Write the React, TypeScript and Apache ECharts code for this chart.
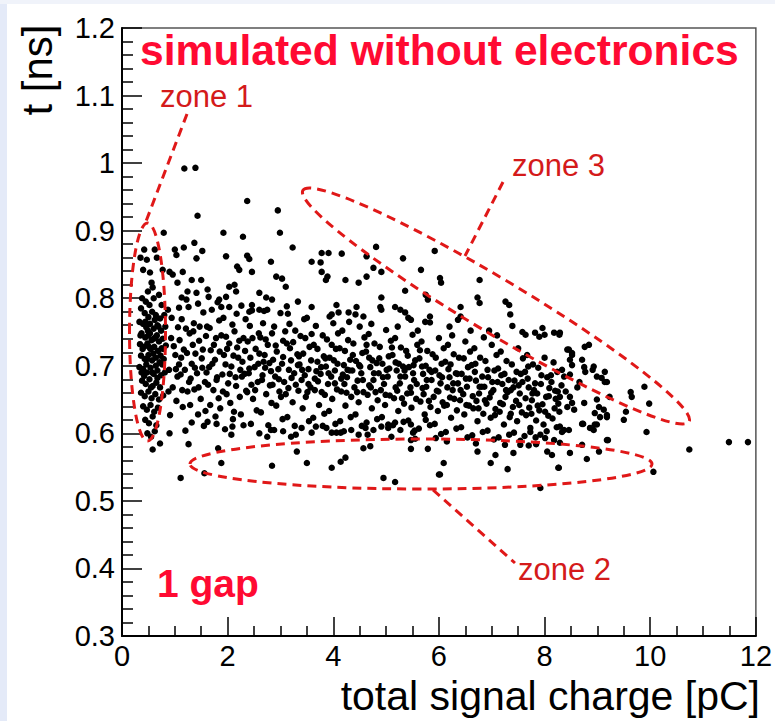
import React, { useEffect, useRef } from "react";
import * as echarts from "echarts";

const TITLE = "simulated without electronics";
const GAP_LABEL = "1 gap";
const ZONE_LABELS = ["zone 1", "zone 2", "zone 3"];
const X_NAME = "total signal charge [pC]";
const Y_NAME = "t [ns]";

const X_MIN = 0;
const X_MAX = 12;
const X_STEP = 2;
const Y_MIN = 0.3;
const Y_MAX = 1.2;
const Y_STEP = 0.1;

const zone1Points = [
  [0.35,0.86],[0.42,0.872],[0.47,0.857],[0.62,0.872],[0.66,0.86],[0.40,0.842],[0.53,0.838],[0.56,0.823],[0.58,0.816],[0.49,0.81],
  [0.38,0.80],[0.45,0.795],[0.52,0.79],[0.60,0.80],[0.70,0.805],[0.75,0.79],[0.36,0.785],[0.43,0.778],[0.50,0.772],[0.57,0.78],
  [0.64,0.775],[0.72,0.77],[0.80,0.775],[0.33,0.765],[0.40,0.762],[0.46,0.757],[0.53,0.762],[0.60,0.755],[0.67,0.76],[0.74,0.752],
  [0.82,0.758],[0.37,0.748],[0.44,0.742],[0.50,0.745],[0.56,0.738],[0.63,0.742],[0.70,0.736],[0.77,0.74],[0.34,0.732],[0.41,0.728],
  [0.48,0.733],[0.54,0.725],[0.61,0.728],[0.68,0.722],[0.75,0.726],[0.83,0.73],[0.36,0.715],[0.43,0.71],[0.50,0.716],[0.57,0.708],
  [0.64,0.712],[0.71,0.705],[0.79,0.71],[0.33,0.698],[0.40,0.695],[0.47,0.69],[0.54,0.697],[0.60,0.688],[0.67,0.693],[0.74,0.686],
  [0.81,0.69],[0.38,0.678],[0.45,0.673],[0.52,0.68],[0.58,0.67],[0.65,0.675],[0.72,0.668],[0.36,0.66],[0.43,0.655],[0.50,0.662],
  [0.56,0.652],[0.63,0.658],[0.70,0.65],[0.78,0.656],[0.40,0.64],[0.47,0.635],[0.54,0.642],[0.61,0.632],[0.68,0.638],[0.44,0.62],
  [0.51,0.615],[0.58,0.625],[0.65,0.612],[0.48,0.60],[0.55,0.595],[0.62,0.603],[0.58,0.576],[0.72,0.585],[0.39,0.725],[0.46,0.702],
  [0.53,0.748],[0.59,0.718],[0.66,0.745],[0.73,0.715],[0.42,0.685],[0.49,0.752],[0.57,0.69],[0.64,0.70],[0.35,0.745],[0.78,0.725],
  [0.44,0.765],[0.51,0.728],[0.62,0.768],[0.69,0.758],[0.76,0.702],[0.37,0.69],[0.55,0.668],[0.48,0.71],[0.60,0.74],[0.67,0.682]
];

const bodyA = [
  [0.87,0.783],[0.93,0.741],[1.01,0.716],[0.89,0.694],[1.06,0.757],[0.96,0.668],[1.08,0.702],[0.91,0.627],[1.03,0.648],[0.98,0.729],[0.88,0.662],[1.05,0.684],[0.94,0.771],
  [1.13,0.769],[1.17,0.724],[1.28,0.748],[1.11,0.687],[1.32,0.703],[1.24,0.662],[1.15,0.639],[1.3,0.681],[1.26,0.787],[1.34,0.731],[1.12,0.712],[1.21,0.755],[1.29,0.642],[1.19,0.694],
  [1.36,0.763],[1.46,0.737],[1.51,0.711],[1.42,0.689],[1.57,0.676],[1.49,0.651],[1.39,0.718],[1.59,0.744],[1.44,0.628],[1.54,0.779],[1.52,0.697],[1.37,0.665],[1.58,0.633],[1.47,0.758],
  [1.61,0.758],[1.68,0.723],[1.78,0.741],[1.65,0.698],[1.8,0.683],[1.73,0.664],[1.67,0.642],[1.76,0.709],[1.84,0.767],[1.7,0.783],[1.63,0.672],[1.77,0.625],[1.83,0.652],[1.74,0.731],
  [1.88,0.745],[1.93,0.716],[2.03,0.733],[1.9,0.687],[2.07,0.699],[1.98,0.658],[1.92,0.771],[2.09,0.761],[2.01,0.674],[1.86,0.637],[2.05,0.645],[1.96,0.702],[2.1,0.621],[1.99,0.725],
  [2.13,0.751],[2.18,0.727],[2.28,0.706],[2.15,0.683],[2.32,0.688],[2.23,0.654],[2.17,0.777],[2.3,0.741],[2.35,0.663],[2.2,0.712],[2.12,0.632],[2.25,0.628],[2.34,0.769],[2.24,0.694],
  [2.38,0.736],[2.43,0.712],[2.53,0.725],[2.4,0.689],[2.57,0.676],[2.48,0.651],[2.42,0.759],[2.59,0.748],[2.51,0.698],[2.37,0.661],[2.55,0.634],[2.46,0.782],[2.58,0.703],[2.45,0.672]
];

const bodyB = [
  [2.62,0.742],[2.7,0.716],[2.76,0.731],[2.65,0.679],[2.82,0.692],[2.73,0.658],[2.67,0.763],[2.8,0.671],[2.84,0.748],[2.71,0.697],[2.63,0.631],[2.77,0.612],[2.83,0.645],[2.68,0.706],
  [2.88,0.758],[2.93,0.721],[3.03,0.703],[2.9,0.684],[3.05,0.737],[2.98,0.662],[2.92,0.641],[3.07,0.676],[3.0,0.778],[2.86,0.709],[3.04,0.621],[2.96,0.695],[3.09,0.751],[3.01,0.654],
  [3.12,0.733],[3.2,0.708],[3.26,0.689],[3.15,0.667],[3.32,0.717],[3.23,0.646],[3.17,0.762],[3.28,0.752],[3.34,0.663],[3.21,0.682],[3.13,0.624],[3.27,0.611],[3.33,0.701],[3.18,0.726],
  [3.38,0.744],[3.43,0.718],[3.53,0.695],[3.4,0.679],[3.55,0.728],[3.48,0.654],[3.42,0.637],[3.57,0.668],[3.5,0.771],[3.36,0.702],[3.54,0.618],[3.46,0.686],[3.59,0.747],[3.51,0.661],
  [3.63,0.731],[3.7,0.706],[3.76,0.688],[3.65,0.664],[3.82,0.714],[3.73,0.642],[3.67,0.759],[3.8,0.745],[3.84,0.657],[3.71,0.677],[3.62,0.623],[3.77,0.698],[3.83,0.629],[3.68,0.692],
  [3.88,0.739],[3.93,0.712],[4.03,0.693],[3.9,0.673],[4.05,0.725],[3.98,0.651],[3.92,0.633],[4.07,0.665],[4.0,0.763],[3.86,0.699],[4.04,0.614],[3.96,0.684],[4.09,0.748],[4.01,0.708],
  [4.12,0.726],[4.2,0.701],[4.26,0.683],[4.15,0.662],[4.32,0.709],[4.23,0.641],[4.17,0.752],[4.28,0.738],[4.34,0.654],[4.21,0.673],[4.13,0.618],[4.27,0.694],[4.33,0.624],[4.18,0.687],
  [4.38,0.733],[4.43,0.707],[4.53,0.689],[4.4,0.668],[4.55,0.719],[4.48,0.646],[4.42,0.628],[4.57,0.661],[4.5,0.758],[4.36,0.693],[4.54,0.611],[4.46,0.678],[4.59,0.742],[4.51,0.699]
];

const bodyC = [
  [4.62,0.721],[4.7,0.698],[4.76,0.679],[4.65,0.657],[4.82,0.704],[4.73,0.637],[4.67,0.747],[4.78,0.733],[4.84,0.649],[4.71,0.668],[4.63,0.616],[4.77,0.689],[4.83,0.621],[4.68,0.712],
  [4.88,0.728],[4.93,0.703],[5.03,0.684],[4.9,0.664],[5.05,0.714],[4.98,0.642],[4.92,0.624],[5.07,0.656],[5.0,0.753],[4.86,0.689],[5.04,0.608],[4.96,0.673],[5.09,0.737],[5.01,0.694],
  [5.12,0.716],[5.2,0.693],[5.26,0.674],[5.15,0.652],[5.32,0.699],[5.23,0.633],[5.17,0.741],[5.28,0.727],[5.34,0.644],[5.21,0.663],[5.13,0.612],[5.27,0.684],[5.33,0.617],[5.18,0.705],
  [5.38,0.722],[5.43,0.698],[5.53,0.679],[5.4,0.659],[5.55,0.708],[5.48,0.638],[5.42,0.619],[5.57,0.651],[5.5,0.746],[5.36,0.684],[5.54,0.604],[5.46,0.668],[5.59,0.731],[5.51,0.689],
  [5.63,0.711],[5.7,0.688],[5.76,0.669],[5.65,0.647],[5.82,0.694],[5.73,0.628],[5.67,0.736],[5.78,0.722],[5.84,0.639],[5.71,0.658],[5.62,0.607],[5.77,0.679],[5.83,0.612],[5.68,0.699],
  [5.88,0.717],[5.93,0.693],[6.03,0.674],[5.9,0.654],[6.05,0.703],[5.98,0.633],[5.92,0.614],[6.07,0.646],[6.0,0.741],[5.86,0.679],[6.04,0.599],[5.96,0.663],[6.09,0.726],[6.01,0.686],
  [6.12,0.706],[6.2,0.683],[6.26,0.664],[6.15,0.642],[6.32,0.689],[6.23,0.623],[6.17,0.731],[6.28,0.717],[6.34,0.634],[6.21,0.653],[6.13,0.602],[6.27,0.674],[6.33,0.607],[6.18,0.695],
  [6.38,0.712],[6.43,0.688],[6.53,0.669],[6.4,0.649],[6.55,0.698],[6.48,0.628],[6.42,0.609],[6.57,0.641],[6.5,0.736],[6.36,0.674],[6.54,0.594],[6.46,0.658],[6.59,0.721],[6.51,0.681]
];

const bodyD = [
  [6.62,0.701],[6.7,0.678],[6.76,0.659],[6.65,0.637],[6.82,0.684],[6.73,0.618],[6.67,0.726],[6.78,0.712],[6.84,0.629],[6.71,0.648],[6.63,0.597],[6.77,0.669],[6.83,0.602],[6.68,0.691],
  [6.88,0.707],[6.93,0.683],[7.03,0.664],[6.9,0.644],[7.05,0.693],[6.98,0.623],[6.92,0.604],[7.07,0.636],[7.0,0.731],[6.86,0.669],[7.04,0.591],[6.96,0.653],[7.09,0.716],[7.01,0.676],
  [7.12,0.696],[7.2,0.673],[7.26,0.654],[7.15,0.632],[7.32,0.679],[7.23,0.613],[7.17,0.721],[7.28,0.707],[7.34,0.624],[7.21,0.643],[7.13,0.594],[7.27,0.664],[7.33,0.598],[7.18,0.686],
  [7.38,0.702],[7.43,0.678],[7.53,0.659],[7.4,0.639],[7.55,0.688],[7.48,0.618],[7.42,0.601],[7.57,0.631],[7.5,0.726],[7.36,0.664],[7.54,0.589],[7.46,0.648],[7.59,0.711],[7.51,0.671],
  [7.63,0.691],[7.7,0.668],[7.76,0.649],[7.65,0.627],[7.82,0.674],[7.73,0.608],[7.67,0.716],[7.78,0.702],[7.84,0.619],[7.71,0.638],[7.62,0.596],[7.77,0.659],[7.83,0.594],[7.68,0.681],
  [7.88,0.697],[7.93,0.673],[8.03,0.654],[7.9,0.634],[8.05,0.683],[7.98,0.613],[7.92,0.598],[8.07,0.626],[8.0,0.712],[7.86,0.659],[8.04,0.603],[7.96,0.643],[8.09,0.667],
  [8.12,0.686],[8.2,0.663],[8.26,0.644],[8.15,0.622],[8.32,0.671],[8.23,0.609],[8.17,0.705],[8.28,0.632],[8.21,0.651],[8.33,0.694]
];

const bodyFill = [
  [1.02,0.695],[1.09,0.738],[1.14,0.664],[1.23,0.719],[1.27,0.676],[1.35,0.751],[1.38,0.697],[1.45,0.668],[1.53,0.724],[1.6,0.69],
  [1.66,0.756],[1.71,0.703],[1.79,0.679],[1.85,0.721],[1.91,0.662],[1.97,0.743],[2.04,0.688],[2.11,0.715],[2.16,0.67],[2.22,0.737],
  [2.27,0.684],[2.33,0.722],[2.41,0.696],[2.47,0.741],[2.52,0.664],[2.6,0.718],[2.66,0.686],[2.72,0.739],[2.79,0.704],[2.85,0.672],
  [2.91,0.73],[2.97,0.68],[3.05,0.713],[3.1,0.658],[3.16,0.694],[3.24,0.735],[3.29,0.672],[3.35,0.714],[3.41,0.694],[3.47,0.741],
  [3.53,0.673],[3.58,0.708],[3.65,0.681],[3.7,0.725],[3.78,0.661],[3.85,0.711],[3.91,0.689],[3.97,0.731],[4.03,0.674],[4.08,0.703],
  [4.15,0.681],[4.22,0.722],[4.25,0.66],[4.31,0.693],[4.37,0.716],[4.45,0.661],[4.49,0.701],[4.56,0.679],[4.63,0.731],[4.68,0.671],
  [4.74,0.708],[4.8,0.661],[4.87,0.711],[4.94,0.683],[4.99,0.657],[5.06,0.696],[5.11,0.727],[5.18,0.668],[5.24,0.703],[5.3,0.652],
  [5.35,0.693],[5.41,0.715],[5.47,0.66],[5.52,0.701],[5.58,0.673],[5.64,0.723],[5.69,0.667],[5.75,0.7],[5.81,0.648],[5.86,0.691],
  [5.94,0.712],[5.99,0.662],[6.06,0.683],[6.1,0.641],[6.16,0.668],[6.22,0.702],[6.29,0.651],[6.35,0.688],[6.41,0.664],[6.47,0.711],
  [6.52,0.642],[6.58,0.681],[6.64,0.655],[6.69,0.703],[6.75,0.637],[6.81,0.669],[6.87,0.649],[6.92,0.694],[6.99,0.66],[7.06,0.627],
  [7.11,0.676],[7.16,0.645],[7.24,0.688],[7.3,0.661],[7.36,0.629],[7.41,0.668],[7.47,0.691],[7.52,0.642],[7.58,0.676],[7.64,0.652],
  [7.69,0.699],[7.75,0.629],[7.8,0.664],[7.87,0.641],[7.94,0.686],[8.01,0.632],[8.08,0.655],[8.13,0.676],[8.19,0.637],[8.25,0.662],
  [1.2,0.604],[1.55,0.611],[1.95,0.606],[2.3,0.612],[2.6,0.6],[3.05,0.603],[3.4,0.608],[3.8,0.611],[4.2,0.603],[4.65,0.598],
  [5.1,0.595],[5.55,0.592],[6.15,0.588],[6.7,0.585],[7.25,0.583],[7.7,0.582],[1.08,0.786],[1.44,0.792],[1.81,0.794],[2.26,0.789],
  [2.69,0.781],[3.14,0.777],[3.45,0.769],[3.93,0.773],[4.3,0.765],[4.72,0.762],[5.22,0.758],[5.6,0.752],[6.25,0.745],[6.85,0.742]
];

const upperPoints = [
  [1.18,0.992],[1.39,0.993],[1.43,0.922],[2.37,0.944],[2.95,0.93],[0.79,0.897],[1.92,0.897],[2.29,0.891],[2.99,0.897],[1.37,0.882],
  [1.0,0.872],[1.03,0.864],[1.17,0.875],[1.52,0.87],[1.41,0.859],[1.97,0.862],[2.37,0.863],[2.41,0.858],[2.18,0.847],[2.22,0.842],
  [2.46,0.839],[0.9,0.839],[0.96,0.835],[1.15,0.839],[1.32,0.827],[1.5,0.827],[1.05,0.823],[1.24,0.81],[1.13,0.801],[1.22,0.798],
  [1.41,0.808],[1.62,0.813],[1.64,0.802],[2.03,0.817],[2.13,0.82],[2.16,0.81],[1.97,0.802],[1.84,0.798],[1.88,0.787],[2.03,0.787],
  [0.77,0.842],[2.82,0.854],[2.92,0.832],[3.03,0.829],[3.1,0.817],[3.59,0.854],[3.76,0.853],[3.78,0.839],[3.86,0.827],[3.89,0.832],
  [4.23,0.827],[4.48,0.823],[4.63,0.832],[3.23,0.875],[3.78,0.867],[3.91,0.867],[4.16,0.866],[4.63,0.862],[2.6,0.808],[2.73,0.801],
  [2.84,0.798],[2.75,0.783],[2.6,0.783],[2.46,0.79],[2.41,0.78],[3.59,0.787],[4.06,0.79],[3.97,0.776],[4.1,0.779],[4.29,0.779],
  [4.42,0.776],[4.44,0.787],[4.57,0.773],[4.81,0.876],[5.92,0.87],[5.32,0.859],[4.76,0.845],[4.91,0.839],[5.66,0.842],[6.02,0.83],
  [6.04,0.823],[6.77,0.827],[5.36,0.811],[4.91,0.801],[4.89,0.787],[4.91,0.783],[5.17,0.787],[5.27,0.783],[5.75,0.805],[5.79,0.798],
  [6.73,0.801],[6.77,0.793],[7.26,0.795],[7.33,0.79],[7.35,0.776],[6.41,0.787],[6.41,0.773],[6.36,0.768],[5.83,0.773],[5.74,0.765],
  [5.83,0.764],[5.36,0.779],[5.42,0.771],[5.47,0.768],[7.39,0.759],[7.58,0.75],[7.64,0.746],[7.82,0.749],[7.9,0.743],[7.96,0.756],
  [8.0,0.746],[8.18,0.749],[8.28,0.746],[8.29,0.749],[3.33,0.795],[3.12,0.788],[6.95,0.752],[7.1,0.745],[6.2,0.758],[6.6,0.752]
];

const lowerPoints = [
  [1.11,0.534],[1.26,0.584],[1.56,0.541],[1.82,0.578],[1.88,0.556],[1.32,0.616],[1.62,0.617],[1.79,0.614],[2.44,0.614],[2.07,0.598],
  [2.09,0.61],[0.9,0.6],[2.84,0.552],[3.31,0.573],[3.5,0.556],[3.97,0.549],[4.14,0.558],[4.23,0.564],[4.57,0.578],[4.7,0.581],
  [4.95,0.534],[5.17,0.528],[5.47,0.577],[5.79,0.577],[6.0,0.539],[6.09,0.556],[2.75,0.595],[2.82,0.605],[2.88,0.605],[3.2,0.595],
  [3.29,0.598],[3.59,0.601],[3.67,0.61],[3.87,0.608],[3.97,0.601],[4.06,0.601],[4.14,0.601],[4.34,0.605],[4.48,0.598],[4.61,0.608],
  [4.76,0.605],[4.91,0.61],[5.04,0.613],[5.17,0.616],[5.27,0.605],[5.47,0.613],[5.51,0.601],[5.47,0.59],[5.75,0.62],[5.94,0.593],
  [6.02,0.539],[6.73,0.573],[6.98,0.556],[7.07,0.568],[7.3,0.547],[7.41,0.571],[7.54,0.583],[7.84,0.584],[8.05,0.573],[8.14,0.568],
  [8.26,0.549],[7.92,0.519],[7.73,0.602],[8.01,0.593],[8.18,0.59],[8.29,0.586]
];

const tailPoints = [
  [8.48,0.571],[8.71,0.583],[8.8,0.562],[9.03,0.573],[9.2,0.59],[9.93,0.602],[10.06,0.543],[10.74,0.576],[11.49,0.587],[11.85,0.587],
  [8.73,0.614],[8.99,0.613],[8.93,0.605],[9.89,0.669],[9.98,0.644],[9.63,0.661],[9.65,0.654],[9.54,0.632],[9.5,0.62],[9.18,0.59],
  [8.27,0.549],[9.18,0.676],[9.23,0.654],[9.18,0.624],[8.86,0.608],[8.95,0.613],[8.71,0.614],[8.84,0.731],[8.91,0.694],[8.99,0.684],
  [9.08,0.682],[9.14,0.676],[8.43,0.724],[8.52,0.716],[8.48,0.709],[8.52,0.701],[8.71,0.709],[8.75,0.698],[8.77,0.691],[8.37,0.684],
  [8.48,0.687],[8.29,0.654],[8.48,0.654],[8.52,0.645],[8.43,0.639],[8.56,0.635],[8.75,0.645],[8.99,0.65],[9.03,0.639],[9.12,0.635],
  [9.18,0.627],[8.95,0.63],[9.05,0.624],[8.29,0.61],[8.33,0.602],[8.37,0.605],[8.46,0.605],[8.46,0.724],[8.52,0.719],[8.76,0.728],
  [8.93,0.699],[9.14,0.691],[8.24,0.691],[8.62,0.668],[8.66,0.676],[8.4,0.662]
];

const ALL_POINTS = [
  ...zone1Points, ...bodyA, ...bodyB, ...bodyC, ...bodyD, ...bodyFill,
  ...upperPoints, ...lowerPoints, ...tailPoints
];

const FONT = '"Liberation Sans", Arial, sans-serif';
const RED = "#ff0a32";
const ZONE_RED = "#d41a1a";
const DASH_RED = "#e01818";

export default function App() {
  const ref = useRef<HTMLDivElement>(null);

  useEffect(() => {
    if (!ref.current) return;
    const chart = echarts.init(ref.current, undefined, { renderer: "svg" });
    const dashStyle = { fill: "none", stroke: DASH_RED, lineWidth: 3, lineDash: [9, 6] };
    const option: any = {
      animation: false,
      backgroundColor: "#ffffff",
      grid: {
        left: 122, right: 15, top: 28, bottom: 85,
        show: true, borderColor: "#555", borderWidth: 1.5, backgroundColor: "transparent"
      },
      xAxis: {
        type: "value", min: X_MIN, max: X_MAX, interval: X_STEP,
        axisLine: { show: true, onZero: false, lineStyle: { color: "#000", width: 2 } },
        axisTick: { show: true, inside: true, length: 19, lineStyle: { color: "#000", width: 1.5 } },
        minorTick: { show: true, splitNumber: 4, length: 10, lineStyle: { color: "#000", width: 1.5 } },
        splitLine: { show: false },
        axisLabel: { color: "#000", fontSize: 29, fontFamily: FONT, margin: 5 }
      },
      yAxis: {
        type: "value", min: Y_MIN, max: Y_MAX, interval: Y_STEP,
        axisLine: { show: true, onZero: false, lineStyle: { color: "#000", width: 2 } },
        axisTick: { show: true, inside: true, length: 20, lineStyle: { color: "#000", width: 1.5 } },
        minorTick: { show: true, splitNumber: 5, length: 11, lineStyle: { color: "#000", width: 1.5 } },
        splitLine: { show: false },
        axisLabel: {
          color: "#000", fontSize: 29, fontFamily: FONT, margin: 7,
          formatter: (v: number) => String(Math.round(v * 10) / 10)
        }
      },
      series: [
        {
          type: "scatter",
          data: ALL_POINTS,
          symbol: "circle",
          symbolSize: 6.5,
          itemStyle: { color: "#000", opacity: 1 },
          silent: true
        }
      ],
      graphic: [
        { type: "rect", z: -1, shape: { x: 0, y: 0, width: 7, height: 721 }, style: { fill: "#e4eaf8" } },
        { type: "rect", z: -1, shape: { x: 0, y: 0, width: 775, height: 4 }, style: { fill: "#f0f3fa" } },
        { type: "ellipse", z: 100, x: 147.5, y: 332, shape: { cx: 0, cy: 0, rx: 18, ry: 109 }, style: dashStyle },
        { type: "ellipse", z: 100, x: 421, y: 464, shape: { cx: 0, cy: 0, rx: 231, ry: 25 }, style: dashStyle },
        { type: "ellipse", z: 100, x: 496, y: 306, rotation: -0.54, shape: { cx: 0, cy: 0, rx: 225, ry: 27 }, style: dashStyle },
        { type: "line", z: 100, shape: { x1: 187, y1: 114, x2: 145, y2: 224 }, style: { ...dashStyle } },
        { type: "line", z: 100, shape: { x1: 503, y1: 182, x2: 465, y2: 256 }, style: { ...dashStyle } },
        { type: "line", z: 100, shape: { x1: 433, y1: 490, x2: 515, y2: 563 }, style: { ...dashStyle } },
        {
          type: "text", z: 110, x: 140, y: 50,
          style: { text: TITLE, fill: RED, fontSize: 42.6, fontWeight: "bold", fontFamily: FONT, align: "left", verticalAlign: "middle" }
        },
        {
          type: "text", z: 110, x: 157, y: 583,
          style: { text: GAP_LABEL, fill: RED, fontSize: 39, fontWeight: "bold", fontFamily: FONT, align: "left", verticalAlign: "middle" }
        },
        {
          type: "text", z: 110, x: 160, y: 96,
          style: { text: ZONE_LABELS[0], fill: ZONE_RED, fontSize: 31, fontFamily: FONT, align: "left", verticalAlign: "middle" }
        },
        {
          type: "text", z: 110, x: 518, y: 569,
          style: { text: ZONE_LABELS[1], fill: ZONE_RED, fontSize: 31, fontFamily: FONT, align: "left", verticalAlign: "middle" }
        },
        {
          type: "text", z: 110, x: 512, y: 165,
          style: { text: ZONE_LABELS[2], fill: ZONE_RED, fontSize: 31, fontFamily: FONT, align: "left", verticalAlign: "middle" }
        },
        {
          type: "text", z: 110, x: 760, y: 696,
          style: { text: X_NAME, fill: "#000", fontSize: 41, fontFamily: FONT, align: "right", verticalAlign: "middle" }
        },
        {
          type: "text", z: 110, x: 37, y: 70, rotation: Math.PI / 2,
          style: { text: Y_NAME, fill: "#000", fontSize: 42, fontFamily: FONT, align: "center", verticalAlign: "middle" }
        }
      ]
    };
    chart.setOption(option);
    return () => chart.dispose();
  }, []);

  return (
    <div
      ref={ref}
      style={{ position: "fixed", left: 0, top: 0, width: 775, height: 721, background: "#fff" }}
    />
  );
}
